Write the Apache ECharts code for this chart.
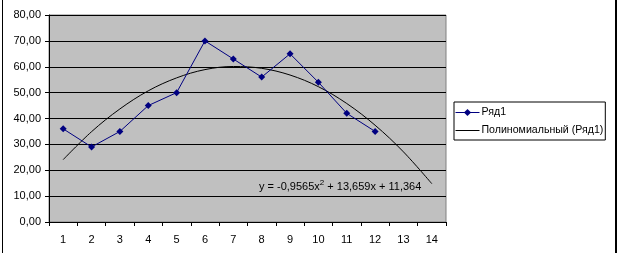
<!DOCTYPE html>
<html><head><meta charset="utf-8">
<script src="https://cdn.jsdelivr.net/npm/echarts@6/dist/echarts.min.js"></script>
<style>html,body{margin:0;padding:0;background:#fff}#c{width:619px;height:253px}</style>
</head><body><div id="c"></div>
<script>
const categories = ['1','2','3','4','5','6','7','8','9','10','11','12','13','14'];
const series1 = [36, 29, 35, 45, 50, 70, 63, 56, 65, 54, 42, 35, null, null];
const trend = [24.1, 34.9, 43.7, 50.7, 55.7, 58.9, 60.1, 59.4, 56.8, 52.3, 45.8, 37.4, 27.1, 14.8];
const seriesNames = ['Ряд1', 'Полиномиальный (Ряд1)'];
const yTicks = {min: 0, max: 80, interval: 10};
const equation = ['y = -0,9565x', '2', ' + 13,659x + 11,364'];

const font = 'Liberation Sans, Arial, sans-serif';
const chart = echarts.init(document.getElementById('c'), null, {renderer: 'canvas'});
chart.setOption({
  animation: false,
  backgroundColor: '#fff',
  grid: {left: 49, top: 15, right: 173, bottom: 31, show: true, backgroundColor: '#c0c0c0', borderColor: '#808080', borderWidth: 1},
  xAxis: {
    type: 'category', data: categories, boundaryGap: true,
    axisLine: {lineStyle: {color: '#000', width: 1}},
    axisTick: {show: true, length: 4, lineStyle: {color: '#000'}},
    axisLabel: {color: '#000', fontFamily: font, fontSize: 11, margin: 12},
    splitLine: {show: false}
  },
  yAxis: {
    type: 'value', min: yTicks.min, max: yTicks.max, interval: yTicks.interval,
    axisLine: {show: true, lineStyle: {color: '#000', width: 1}},
    axisTick: {show: true, length: 4, lineStyle: {color: '#000'}},
    axisLabel: {color: '#000', fontFamily: font, fontSize: 11, margin: 8,
      formatter: v => v.toFixed(2).replace('.', ',')},
    splitLine: {show: true, lineStyle: {color: '#000', width: 1}}
  },
  legend: {
    orient: 'vertical', left: 454, top: 102,
    data: [{name: seriesNames[0]}, {name: seriesNames[1], itemStyle: {color: 'rgba(0,0,0,0)', borderWidth: 0}}],
    backgroundColor: '#fff', borderColor: '#000', borderWidth: 1, borderRadius: 0,
    padding: [4, 2, 3, 1], itemGap: 5, itemWidth: 24, itemHeight: 9,
    lineStyle: {width: 1},
    textStyle: {color: '#000', fontFamily: font, fontSize: 10.6, padding: [0, 0, 0, -3], lineHeight: 13}
  },
  series: [
    {name: seriesNames[0], type: 'line', data: series1, color: '#000080',
     symbol: 'diamond', symbolSize: 7, showSymbol: true,
     lineStyle: {width: 1, color: '#000080'}, itemStyle: {color: '#000080'}, z: 3},
    {name: seriesNames[1], type: 'line', data: trend, color: '#000', smooth: 0.35,
     symbol: 'none', lineStyle: {width: 1, color: '#000'}, z: 2}
  ],
  graphic: [
    {type: 'line', shape: {x1: 2.5, y1: 0, x2: 2.5, y2: 253}, style: {stroke: '#000', lineWidth: 1}},
    {type: 'line', z: 100, shape: {x1: 616, y1: 0, x2: 616, y2: 253}, style: {stroke: '#000', lineWidth: 2}},
    {type: 'text', left: 259, top: 179, z: 10,
     style: {text: '{a|' + equation[0] + '}{s|' + equation[1] + '}{a|' + equation[2] + '}',
       rich: {a: {fontFamily: font, fontSize: 11, fill: '#000', verticalAlign: 'bottom', lineHeight: 13},
              s: {fontFamily: font, fontSize: 8, fill: '#000', verticalAlign: 'top', lineHeight: 13, padding: [0,0,5,0]}}}}
  ]
});
</script></body></html>
